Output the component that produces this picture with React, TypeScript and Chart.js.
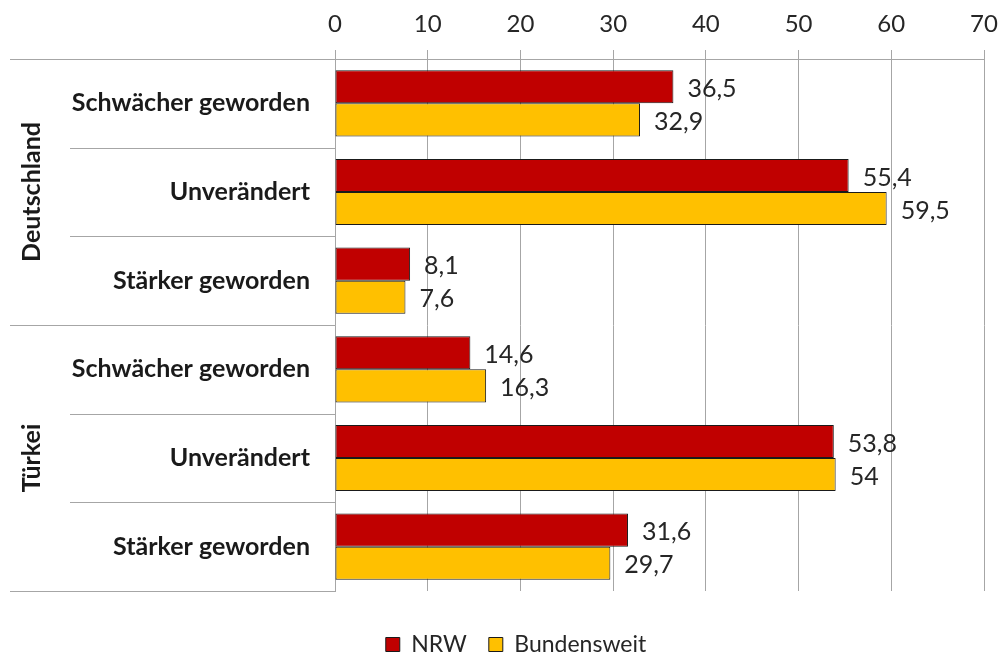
import React, { useEffect, useRef } from "react";
import { Chart, registerables } from "chart.js";

Chart.register(...registerables);

const categories = [
  "Schwächer geworden",
  "Unverändert",
  "Stärker geworden",
  "Schwächer geworden",
  "Unverändert",
  "Stärker geworden",
];
const groupNames = ["Deutschland", "Türkei"];
const groupSizes = [3, 3];
const seriesNames = ["NRW", "Bundensweit"];
const nrwValues = [36.5, 55.4, 8.1, 14.6, 53.8, 31.6];
const bundesValues = [32.9, 59.5, 7.6, 16.3, 54, 29.7];
const xMin = 0;
const xMax = 70;
const xStep = 10;

const FONT = "Lato, 'Open Sans', sans-serif";
const GRID = "#a6a6a6";
const TEXT = "#262626";
const LEGEND_SHIFT = 16;

const fmt = (v: number) => String(v).replace(".", ",");

export default function App() {
  const ref = useRef<HTMLCanvasElement | null>(null);

  useEffect(() => {
    document.body.style.margin = "0";
    const canvas = ref.current;
    if (!canvas) return;

    const decorPlugin = {
      id: "decor",
      afterUpdate(chart: any) {
        const lg = chart.legend;
        if (lg) {
          lg.left += LEGEND_SHIFT;
          lg.right += LEGEND_SHIFT;
        }
      },
      afterDraw(chart: any) {
        const ctx = chart.ctx;
        const area = chart.chartArea;
        const y = chart.scales.y;
        ctx.save();
        ctx.strokeStyle = GRID;
        ctx.lineWidth = 1;
        const n = categories.length;
        const bounds: number[] = [area.top];
        for (let i = 0; i < n - 1; i++) {
          bounds.push((y.getPixelForValue(i) + y.getPixelForValue(i + 1)) / 2);
        }
        bounds.push(area.bottom);
        const groupStarts: number[] = [0];
        let acc = 0;
        groupSizes.forEach((s) => {
          acc += s;
          groupStarts.push(acc);
        });
        bounds.forEach((b, i) => {
          const isGroup = groupStarts.includes(i);
          const x0 = isGroup ? 10 : 70;
          const yy = Math.round(b) + 0.5;
          ctx.beginPath();
          ctx.moveTo(x0, yy);
          ctx.lineTo(area.left, yy);
          ctx.stroke();
        });
        // group labels
        ctx.fillStyle = "#1a1a1a";
        ctx.font = `bold 25px ${FONT}`;
        ctx.textAlign = "center";
        ctx.textBaseline = "middle";
        groupNames.forEach((g, gi) => {
          const top = bounds[groupStarts[gi]];
          const bot = bounds[groupStarts[gi + 1]];
          ctx.save();
          ctx.translate(32, (top + bot) / 2);
          ctx.rotate(-Math.PI / 2);
          ctx.fillText(g, 0, 0);
          ctx.restore();
        });
        // value labels
        ctx.fillStyle = TEXT;
        ctx.font = `25px ${FONT}`;
        ctx.textAlign = "left";
        ctx.textBaseline = "middle";
        chart.data.datasets.forEach((ds: any, di: number) => {
          const meta = chart.getDatasetMeta(di);
          meta.data.forEach((bar: any, i: number) => {
            ctx.fillText(fmt(ds.data[i]), bar.x + 14, bar.y + 2);
          });
        });
        ctx.restore();
      },
    };

    const chart = new Chart(canvas, {
      type: "bar",
      data: {
        labels: categories,
        datasets: [
          {
            label: seriesNames[0],
            data: nrwValues,
            backgroundColor: "#c00000",
            borderColor: "#1a1a1a",
            borderWidth: 1,
            borderSkipped: false,
            barPercentage: 1,
            categoryPercentage: 0.746,
          },
          {
            label: seriesNames[1],
            data: bundesValues,
            backgroundColor: "#ffc000",
            borderColor: "#1a1a1a",
            borderWidth: 1,
            borderSkipped: false,
            barPercentage: 1,
            categoryPercentage: 0.746,
          },
        ],
      },
      options: {
        indexAxis: "y",
        responsive: false,
        animation: false,
        layout: { padding: { left: 0, right: 0, top: 0, bottom: 0 } },
        scales: {
          x: {
            position: "top",
            min: xMin,
            max: xMax,
            ticks: {
              stepSize: xStep,
              color: TEXT,
              font: { family: FONT, size: 24 },
              padding: 11,
            },
            grid: {
              color: GRID,
              lineWidth: 1,
              tickLength: 9,
              drawTicks: true,
            },
            border: { display: true, color: GRID, width: 1 },
            afterFit: (s: any) => {
              s.height = 59;
              s.paddingRight = 16;
              s.paddingLeft = 0;
            },
          },
          y: {
            ticks: {
              color: "#1a1a1a",
              font: { family: FONT, size: 25, weight: "bold" },
              padding: 25,
            },
            grid: { display: true, drawOnChartArea: false, drawTicks: false },
            border: { display: true, color: GRID, width: 1 },
            afterFit: (s: any) => {
              s.width = 335;
            },
          },
        },
        plugins: {
          tooltip: { enabled: false },
          legend: {
            position: "bottom",
            title: {
              display: true,
              text: "",
              font: { size: 10, lineHeight: 1.2 },
              padding: 4,
            },
            labels: {
              boxWidth: 14,
              boxHeight: 14,
              padding: 22,
              color: TEXT,
              font: { family: FONT, size: 23 },
            },
          },
        },
      },
      plugins: [decorPlugin],
    } as any);

    return () => chart.destroy();
  }, []);

  return (
    <div style={{ width: 1000, height: 652, overflow: "hidden", background: "#fff" }}>
      <canvas ref={ref} width={1000} height={666} style={{ display: "block" }} />
    </div>
  );
}
